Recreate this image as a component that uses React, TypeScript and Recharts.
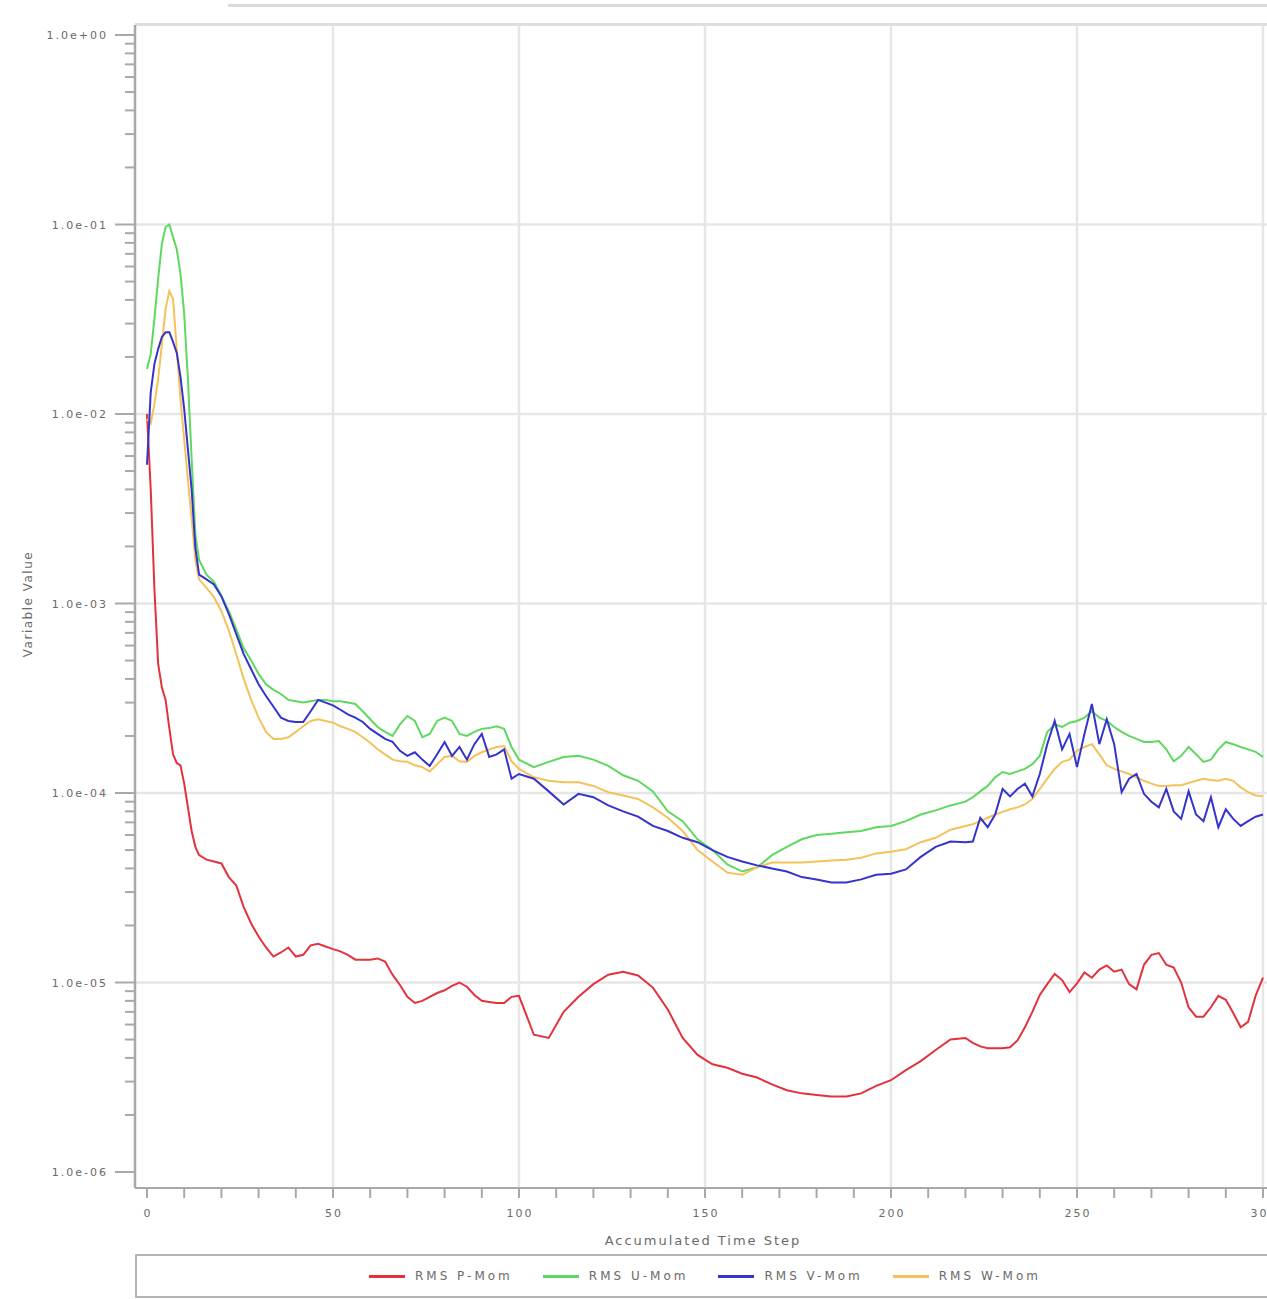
import React from 'react';
import { LineChart, Line, XAxis, YAxis, CartesianGrid } from 'recharts';

// accumulated time steps (x values)
const steps = [
  0, 1, 2, 3, 4, 5, 6, 7, 8, 9, 10, 11, 12, 13, 14,
  16, 18, 20, 22, 24, 26, 28, 30, 32, 34, 36, 38, 40, 42, 44, 46, 48, 50, 52, 54,
  56, 58, 60, 62, 64, 66, 68, 70, 72, 74, 76, 78, 80, 82, 84, 86, 88, 90, 92, 94,
  96, 98, 100,
  104, 108, 112, 116, 120, 124, 128, 132, 136, 140, 144, 148, 152, 156, 160, 164,
  168, 172, 176, 180, 184, 188, 192, 196, 200, 204, 208, 212, 216, 220,
  222, 224, 226, 228, 230, 232, 234, 236, 238, 240, 242, 244, 246, 248, 250, 252,
  254, 256, 258, 260, 262, 264, 266, 268, 270, 272, 274, 276, 278, 280, 282, 284,
  286, 288, 290, 292, 294, 296, 298, 300,
];

const rmsP = [
  1.0e-2, 4.0e-3, 1.19e-3, 4.8e-4, 3.6e-4, 3.1e-4, 2.2e-4, 1.6e-4, 1.44e-4, 1.4e-4, 1.12e-4, 8.4e-5, 6.3e-5, 5.2e-5, 4.7e-5,
  4.45e-5, 4.35e-5, 4.25e-5, 3.6e-5, 3.25e-5, 2.5e-5, 2.05e-5, 1.75e-5, 1.53e-5, 1.37e-5,
  1.44e-5, 1.53e-5, 1.37e-5, 1.4e-5, 1.57e-5, 1.6e-5, 1.55e-5, 1.5e-5, 1.46e-5, 1.4e-5,
  1.32e-5, 1.32e-5, 1.32e-5, 1.34e-5, 1.29e-5, 1.1e-5, 9.7e-6, 8.4e-6, 7.8e-6, 8.0e-6,
  8.4e-6, 8.8e-6, 9.1e-6, 9.6e-6, 1.0e-5, 9.5e-6, 8.6e-6, 8.0e-6, 7.9e-6, 7.8e-6,
  7.8e-6, 8.4e-6, 8.5e-6,
  5.3e-6, 5.1e-6, 7.0e-6, 8.4e-6, 9.8e-6, 1.1e-5, 1.14e-5, 1.09e-5, 9.4e-6, 7.2e-6,
  5.1e-6, 4.15e-6, 3.7e-6, 3.55e-6, 3.3e-6, 3.15e-6, 2.9e-6, 2.7e-6, 2.6e-6, 2.55e-6,
  2.5e-6, 2.5e-6, 2.6e-6, 2.85e-6, 3.05e-6, 3.45e-6, 3.85e-6, 4.4e-6, 5.0e-6, 5.1e-6,
  4.8e-6, 4.6e-6, 4.5e-6, 4.5e-6, 4.5e-6, 4.55e-6, 4.95e-6, 5.8e-6, 7.0e-6, 8.6e-6,
  9.8e-6, 1.11e-5, 1.03e-5, 8.9e-6, 9.9e-6, 1.13e-5, 1.06e-5, 1.17e-5, 1.23e-5, 1.14e-5,
  1.17e-5, 9.8e-6, 9.2e-6, 1.24e-5, 1.4e-5, 1.43e-5, 1.24e-5, 1.2e-5, 1.0e-5, 7.4e-6,
  6.6e-6, 6.6e-6, 7.4e-6, 8.5e-6, 8.1e-6, 6.9e-6, 5.8e-6, 6.2e-6, 8.5e-6, 1.06e-5,
];

const rmsU = [
  1.73e-2, 2.07e-2, 3.2e-2, 5.2e-2, 7.9e-2, 9.7e-2, 1.0e-1, 8.6e-2, 7.4e-2, 5.5e-2, 3.37e-2, 1.53e-2, 5.8e-3, 2.3e-3, 1.7e-3,
  1.42e-3, 1.3e-3, 1.1e-3, 9.1e-4, 7.3e-4, 5.8e-4, 5.0e-4, 4.25e-4, 3.75e-4, 3.5e-4,
  3.33e-4, 3.1e-4, 3.05e-4, 3.0e-4, 3.05e-4, 3.1e-4, 3.1e-4, 3.05e-4, 3.05e-4, 3.0e-4,
  2.95e-4, 2.7e-4, 2.45e-4, 2.23e-4, 2.1e-4, 2.0e-4, 2.3e-4, 2.55e-4, 2.4e-4, 1.97e-4,
  2.05e-4, 2.4e-4, 2.5e-4, 2.4e-4, 2.05e-4, 2.0e-4, 2.1e-4, 2.18e-4, 2.2e-4, 2.25e-4,
  2.18e-4, 1.75e-4, 1.5e-4,
  1.37e-4, 1.46e-4, 1.55e-4, 1.57e-4, 1.5e-4, 1.39e-4, 1.24e-4, 1.16e-4, 1.02e-4, 8.0e-5,
  7.1e-5, 5.7e-5, 5.0e-5, 4.2e-5, 3.85e-5, 4.05e-5, 4.7e-5, 5.2e-5, 5.7e-5, 6.0e-5,
  6.1e-5, 6.2e-5, 6.3e-5, 6.6e-5, 6.7e-5, 7.1e-5, 7.7e-5, 8.1e-5, 8.6e-5, 9.0e-5,
  9.5e-5, 1.02e-4, 1.09e-4, 1.21e-4, 1.29e-4, 1.26e-4, 1.3e-4, 1.34e-4, 1.42e-4, 1.57e-4,
  2.1e-4, 2.3e-4, 2.23e-4, 2.35e-4, 2.4e-4, 2.5e-4, 2.7e-4, 2.5e-4, 2.4e-4, 2.23e-4,
  2.1e-4, 2.0e-4, 1.93e-4, 1.86e-4, 1.86e-4, 1.88e-4, 1.7e-4, 1.47e-4, 1.57e-4, 1.75e-4,
  1.6e-4, 1.46e-4, 1.5e-4, 1.7e-4, 1.86e-4, 1.81e-4, 1.75e-4, 1.7e-4, 1.65e-4, 1.55e-4,
];

const rmsV = [
  5.4e-3, 1.3e-2, 1.84e-2, 2.2e-2, 2.55e-2, 2.7e-2, 2.7e-2, 2.4e-2, 2.1e-2, 1.57e-2, 1.06e-2, 6.5e-3, 4.0e-3, 1.97e-3, 1.42e-3,
  1.34e-3, 1.26e-3, 1.09e-3, 8.8e-4, 6.9e-4, 5.4e-4, 4.5e-4, 3.75e-4, 3.25e-4, 2.85e-4,
  2.5e-4, 2.4e-4, 2.37e-4, 2.37e-4, 2.7e-4, 3.1e-4, 3.0e-4, 2.9e-4, 2.75e-4, 2.6e-4,
  2.5e-4, 2.37e-4, 2.18e-4, 2.05e-4, 1.93e-4, 1.86e-4, 1.67e-4, 1.57e-4, 1.64e-4, 1.5e-4,
  1.39e-4, 1.6e-4, 1.86e-4, 1.57e-4, 1.75e-4, 1.5e-4, 1.81e-4, 2.05e-4, 1.55e-4, 1.6e-4,
  1.7e-4, 1.19e-4, 1.26e-4,
  1.19e-4, 1.02e-4, 8.7e-5, 9.9e-5, 9.5e-5, 8.6e-5, 8.0e-5, 7.5e-5, 6.7e-5, 6.3e-5,
  5.8e-5, 5.5e-5, 5.0e-5, 4.6e-5, 4.35e-5, 4.15e-5, 4.0e-5, 3.85e-5, 3.6e-5, 3.5e-5,
  3.37e-5, 3.37e-5, 3.5e-5, 3.7e-5, 3.75e-5, 3.95e-5, 4.6e-5, 5.2e-5, 5.55e-5, 5.5e-5,
  5.55e-5, 7.4e-5, 6.6e-5, 7.7e-5, 1.05e-4, 9.6e-5, 1.05e-4, 1.12e-4, 9.6e-5, 1.26e-4,
  1.81e-4, 2.4e-4, 1.7e-4, 2.05e-4, 1.37e-4, 2.05e-4, 2.95e-4, 1.81e-4, 2.45e-4, 1.81e-4,
  1.01e-4, 1.19e-4, 1.26e-4, 9.9e-5, 9.0e-5, 8.4e-5, 1.05e-4, 8.0e-5, 7.3e-5, 1.02e-4,
  7.7e-5, 7.1e-5, 9.5e-5, 6.6e-5, 8.2e-5, 7.3e-5, 6.7e-5, 7.1e-5, 7.5e-5, 7.7e-5,
];

const rmsW = [
  9.4e-3, 8.9e-3, 1.13e-2, 1.53e-2, 2.34e-2, 3.58e-2, 4.45e-2, 4.05e-2, 2.2e-2, 1.2e-2, 7.35e-3, 4.5e-3, 2.8e-3, 1.7e-3, 1.34e-3,
  1.21e-3, 1.08e-3, 9.1e-4, 7.2e-4, 5.4e-4, 4.0e-4, 3.1e-4, 2.5e-4, 2.1e-4, 1.93e-4,
  1.93e-4, 1.97e-4, 2.1e-4, 2.25e-4, 2.4e-4, 2.45e-4, 2.4e-4, 2.35e-4, 2.25e-4, 2.18e-4,
  2.1e-4, 1.97e-4, 1.84e-4, 1.7e-4, 1.6e-4, 1.5e-4, 1.47e-4, 1.46e-4, 1.4e-4, 1.37e-4,
  1.3e-4, 1.42e-4, 1.55e-4, 1.57e-4, 1.47e-4, 1.46e-4, 1.57e-4, 1.64e-4, 1.7e-4, 1.75e-4,
  1.77e-4, 1.47e-4, 1.34e-4,
  1.21e-4, 1.16e-4, 1.14e-4, 1.14e-4, 1.09e-4, 1.01e-4, 9.7e-5, 9.3e-5, 8.4e-5, 7.4e-5,
  6.3e-5, 5.0e-5, 4.35e-5, 3.8e-5, 3.7e-5, 4.05e-5, 4.3e-5, 4.3e-5, 4.3e-5, 4.35e-5,
  4.4e-5, 4.45e-5, 4.55e-5, 4.8e-5, 4.9e-5, 5.05e-5, 5.5e-5, 5.8e-5, 6.4e-5, 6.7e-5,
  6.85e-5, 7.1e-5, 7.4e-5, 7.7e-5, 7.95e-5, 8.2e-5, 8.4e-5, 8.7e-5, 9.3e-5, 1.05e-4,
  1.19e-4, 1.34e-4, 1.46e-4, 1.5e-4, 1.67e-4, 1.75e-4, 1.81e-4, 1.6e-4, 1.4e-4, 1.34e-4,
  1.3e-4, 1.26e-4, 1.21e-4, 1.16e-4, 1.12e-4, 1.09e-4, 1.09e-4, 1.1e-4, 1.1e-4, 1.13e-4,
  1.16e-4, 1.19e-4, 1.17e-4, 1.16e-4, 1.19e-4, 1.16e-4, 1.07e-4, 1.01e-4, 9.7e-5, 9.6e-5,
];

const yDecades = [1, 1e-1, 1e-2, 1e-3, 1e-4, 1e-5, 1e-6];
const yLabels = ['1.0e+00', '1.0e-01', '1.0e-02', '1.0e-03', '1.0e-04', '1.0e-05', '1.0e-06'];
const xTicks = [0, 10, 20, 30, 40, 50, 60, 70, 80, 90, 100, 110, 120, 130, 140, 150, 160, 170, 180, 190, 200, 210, 220, 230, 240, 250, 260, 270, 280, 290, 300];
const xLabelTicks = [0, 50, 100, 150, 200, 250, 300];

const seriesKeys = ['p', 'u', 'v', 'w'];
const seriesNames = ['RMS P-Mom', 'RMS U-Mom', 'RMS V-Mom', 'RMS W-Mom'];
const seriesColors = ['#e2323c', '#5fd85f', '#3434cc', '#f4c25a'];

const data = steps.map((step, i) => ({
  step,
  p: rmsP[i],
  u: rmsU[i],
  v: rmsV[i],
  w: rmsW[i],
}));

// minor ticks 2..9 within each decade
const yMinor = yDecades.slice(1).flatMap((d) => [2, 3, 4, 5, 6, 7, 8, 9].map((m) => m * d));
const yTicks = [...yDecades, ...yMinor].sort((a, b) => a - b);

const FONT = '"DejaVu Sans", sans-serif';
const AXIS_X = 135;
const AXIS_Y = 1188;

const YTick = (props: any) => {
  const { y, payload } = props;
  const idx = yDecades.indexOf(payload.value);
  const major = idx >= 0;
  return (
    <g>
      <line x1={AXIS_X - (major ? 20 : 10)} x2={AXIS_X} y1={y} y2={y} stroke="#a8a8a8" strokeWidth={2} />
      {major && (
        <text x={108} y={y + 4} textAnchor="end" fontSize={11} letterSpacing={2} fill="#6a6a6a" fontFamily={FONT}>
          {yLabels[idx]}
        </text>
      )}
    </g>
  );
};

const XTick = (props: any) => {
  const { x, payload } = props;
  const labelled = xLabelTicks.includes(payload.value);
  return (
    <g>
      <line x1={x} x2={x} y1={AXIS_Y} y2={AXIS_Y + 10} stroke="#a8a8a8" strokeWidth={2} />
      {labelled && (
        <text x={x + 1} y={AXIS_Y + 29} textAnchor="middle" fontSize={11} letterSpacing={2} fill="#6a6a6a" fontFamily={FONT}>
          {payload.value}
        </text>
      )}
    </g>
  );
};

const App = () => {
  return (
    <div style={{ position: 'absolute', left: 0, top: 0, width: 1267, height: 1299, background: '#fff', overflow: 'hidden' }}>
      <div style={{ position: 'absolute', left: 228, top: 4, width: 1039, height: 3, background: '#dcdcdc' }} />
      <div style={{ position: 'absolute', left: AXIS_X, top: 23, width: 1132, height: 3, background: '#dedede' }} />
      <LineChart
        width={1267}
        height={1299}
        data={data}
        margin={{ top: 25, right: 0, left: 0, bottom: 51 }}
      >
        <CartesianGrid
          stroke="#e6e6e6"
          strokeWidth={2.5}
          horizontalValues={yDecades.slice(1, 6)}
          verticalValues={xLabelTicks.slice(1)}
        />
        <XAxis
          dataKey="step"
          type="number"
          domain={[0, 300]}
          ticks={xTicks}
          interval={0}
          padding={{ left: 12, right: 4 }}
          height={60}
          tickLine={false}
          tick={<XTick />}
          axisLine={{ stroke: '#a8a8a8', strokeWidth: 2 }}
          label={{
            content: () => (
              <text x={703} y={1245} textAnchor="middle" fontSize={13} letterSpacing={2} fill="#6a6a6a" fontFamily={FONT}>
                Accumulated Time Step
              </text>
            ),
          }}
        />
        <YAxis
          type="number"
          scale="log"
          domain={[1e-6, 1]}
          allowDataOverflow
          ticks={yTicks}
          interval={0}
          width={135}
          padding={{ top: 10, bottom: 16 }}
          tickLine={false}
          tick={<YTick />}
          axisLine={{ stroke: '#a8a8a8', strokeWidth: 2.5 }}
          label={{
            content: () => (
              <text transform="translate(32,604) rotate(-90)" textAnchor="middle" fontSize={12} letterSpacing={1.5} fill="#6a6a6a" fontFamily={FONT}>
                Variable Value
              </text>
            ),
          }}
        />
        {[0, 1, 3, 2].map((i) => (
          <Line
            key={seriesKeys[i]}
            type="linear"
            dataKey={seriesKeys[i]}
            name={seriesNames[i]}
            stroke={seriesColors[i]}
            strokeWidth={2}
            dot={false}
            isAnimationActive={false}
          />
        ))}
      </LineChart>
      <div
        style={{
          position: 'absolute',
          left: AXIS_X,
          top: 1254,
          width: 1140,
          height: 44,
          border: '2px solid #b4b4b4',
          boxSizing: 'border-box',
          display: 'flex',
          alignItems: 'center',
          justifyContent: 'center',
          gap: 30,
          fontFamily: FONT,
          fontSize: 12,
          letterSpacing: 3,
          color: '#6a6a6a',
        }}
      >
        {seriesNames.map((name, i) => (
          <div key={name} style={{ display: 'flex', alignItems: 'center' }}>
            <div style={{ width: 36, height: 3, background: seriesColors[i], marginRight: 10 }} />
            <span>{name}</span>
          </div>
        ))}
      </div>
    </div>
  );
};

export default App;
